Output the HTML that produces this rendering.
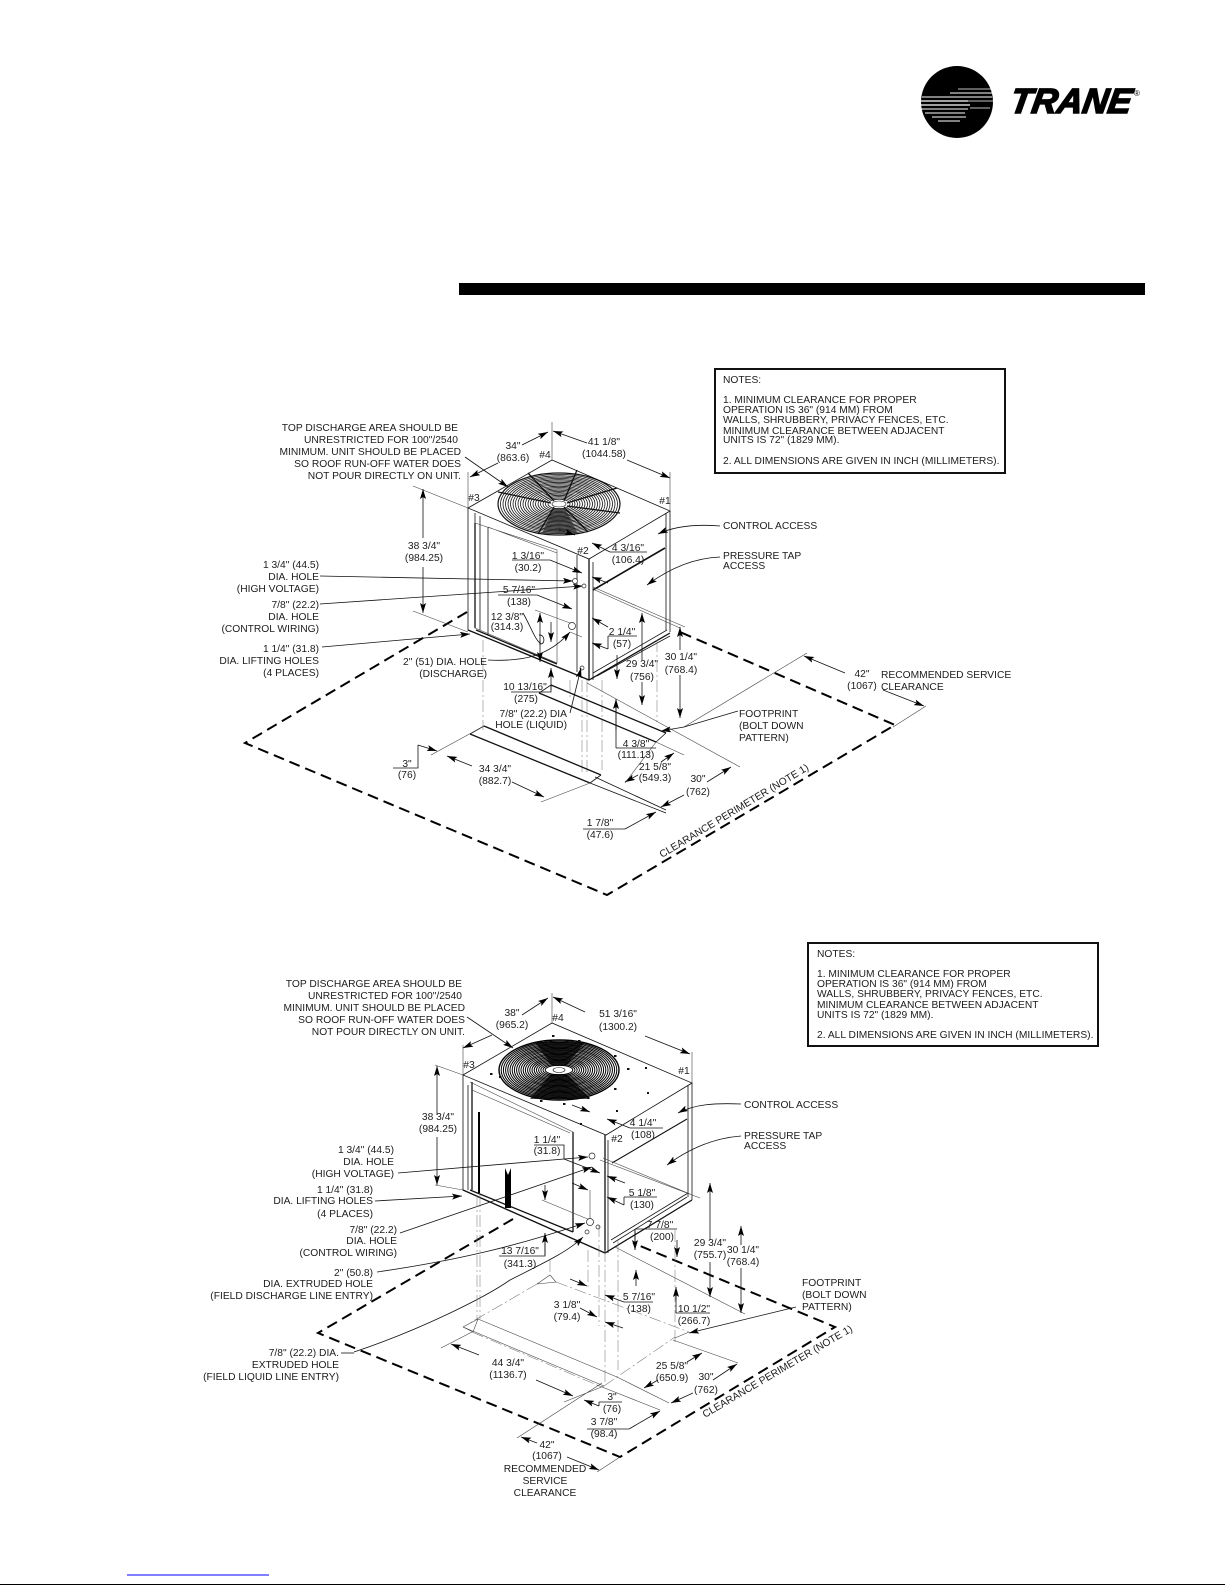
<!DOCTYPE html>
<html><head><meta charset="utf-8"><style>
html,body{margin:0;padding:0;background:#fff}
svg{display:block;filter:blur(.3px)}
text{font-family:"Liberation Sans",sans-serif;font-size:10.25px;fill:#1c1c1c;stroke:none}
.e text,text.e{text-anchor:end}
.m text{text-anchor:middle}
.l{fill:none;stroke:#111;stroke-width:.8}
.t{fill:none;stroke:#444;stroke-width:.6}
.h{fill:none;stroke:#111;stroke-width:1.3}
.a{fill:none;stroke:#111;stroke-width:.8;marker-end:url(#ar)}
.p{fill:none;stroke:#000;stroke-width:2;stroke-dasharray:11 6}
.d{fill:none;stroke:#777;stroke-width:.55;stroke-dasharray:12 3 2 3}
</style></head><body>
<svg width="1225" height="1585" viewBox="0 0 1225 1585" xmlns="http://www.w3.org/2000/svg">
<defs>
<marker id="ar" markerUnits="userSpaceOnUse" markerWidth="11" markerHeight="7" refX="10" refY="3" orient="auto"><path d="M0 0L10 3L0 6L2 3z" fill="#000"/></marker>
<g id="fan1" fill="none" stroke="#111" stroke-width=".8">
<ellipse rx="61" ry="31" stroke-width="1.2"/><ellipse rx="58.5" ry="29.6"/><ellipse rx="56" ry="28.2"/><ellipse rx="53.5" ry="26.9"/><ellipse rx="51" ry="25.6"/><ellipse rx="48.5" ry="24.3"/><ellipse rx="46" ry="23"/><ellipse rx="43.5" ry="21.7"/><ellipse rx="41" ry="20.4"/><ellipse rx="38.5" ry="19.1"/><ellipse rx="36" ry="17.8"/><ellipse rx="33.5" ry="16.5"/><ellipse rx="31" ry="15.2"/><ellipse rx="28.5" ry="13.9"/><ellipse rx="26" ry="12.6"/><ellipse rx="23.5" ry="11.3"/><ellipse rx="21" ry="10"/><ellipse rx="18.5" ry="8.7"/><ellipse rx="16" ry="7.4"/><ellipse rx="13.5" ry="6.1"/><ellipse rx="11" ry="4.8"/>
</g>
<g id="fan2" fill="none" stroke="#000" stroke-width="1">
<ellipse rx="60" ry="30" stroke-width="1.4"/><ellipse rx="57.8" ry="28.8"/><ellipse rx="55.6" ry="27.6"/><ellipse rx="53.4" ry="26.4"/><ellipse rx="51.2" ry="25.2"/><ellipse rx="49" ry="24"/><ellipse rx="46.8" ry="22.8"/><ellipse rx="44.6" ry="21.6"/><ellipse rx="42.4" ry="20.4"/><ellipse rx="40.2" ry="19.2"/><ellipse rx="38" ry="18"/><ellipse rx="35.8" ry="16.8"/><ellipse rx="33.6" ry="15.6"/><ellipse rx="31.4" ry="14.4"/><ellipse rx="29.2" ry="13.2"/><ellipse rx="27" ry="12"/><ellipse rx="24.8" ry="10.8"/><ellipse rx="22.6" ry="9.6"/><ellipse rx="20.4" ry="8.4"/><ellipse rx="18.2" ry="7.2"/><ellipse rx="16" ry="6"/><ellipse rx="13.8" ry="4.8"/>
</g>
</defs>

<!-- logo -->
<circle cx="957" cy="102" r="36" fill="#000"/>
<g stroke="#fff" fill="none">
<path d="M958 89H992" stroke-width=".8"/><path d="M950 93H993" stroke-width="1.1"/><path d="M945 97H992" stroke-width="1.1"/><path d="M922 97H955" stroke-width="1"/>
<path d="M921 101H968" stroke-width="1.2"/><path d="M968 101H993" stroke-width=".8"/><path d="M921 105H970" stroke-width="1.2"/><path d="M921 109H968" stroke-width="1.1"/><path d="M970 108H990" stroke-width=".8"/><path d="M925 113H965" stroke-width="1"/><path d="M932 117H966" stroke-width="1"/><path d="M938 121H960" stroke-width="1"/>
</g>
<text transform="translate(1009 113) skewX(-9)" style="font-size:35px;font-weight:bold;font-style:italic;fill:#000;stroke:#000;stroke-width:1.6" textLength="121" lengthAdjust="spacingAndGlyphs">TRANE</text>
<text x="1134" y="96" style="font-size:8px;fill:#000">®</text>

<rect x="459" y="283" width="686" height="12" fill="#000"/>

<!-- notes 1 -->
<rect x="715" y="369" width="290" height="104" fill="#fff" stroke="#111" stroke-width="2"/>
<g>
<text x="723" y="383">NOTES:</text>
<text x="723" y="403">1. MINIMUM CLEARANCE FOR PROPER</text>
<text x="723" y="413">OPERATION IS 36" (914 MM) FROM</text>
<text x="723" y="423">WALLS, SHRUBBERY, PRIVACY FENCES, ETC.</text>
<text x="723" y="434">MINIMUM CLEARANCE BETWEEN ADJACENT</text>
<text x="723" y="443">UNITS IS 72" (1829 MM).</text>
<text x="723" y="464">2. ALL DIMENSIONS ARE GIVEN IN INCH (MILLIMETERS).</text>
<text x="723" y="529">CONTROL ACCESS</text>
<text x="723" y="559">PRESSURE TAP</text>
<text x="723" y="569">ACCESS</text>
</g>

<!-- UNIT 1 geometry -->
<path class="p" d="M467 612L245 743L607 895L895 725L680 632"/>
<path class="l" d="M552 460L468 508L589 559L670 511Z"/>
<path class="t" d="M552 422V460M468 472V508M670 472V511M413 486L468 508M413 611L468 632"/>
<path class="l" d="M468 508V630L589 680V559M475 513V628M480 516V630M488 527V635M593 562V680M666 513V630M670 511V632M577 555V672"/>
<path class="h" d="M475 523V628M589 559V680"/>
<path class="t" d="M475 523L557 550V663M475 628L557 663M488 527L557 553"/>
<path class="h" d="M468 630L589 680L670 633M476 630L557 664"/>
<path class="l" d="M593 673L667 630M597 676L670 636"/>
<path class="h" d="M593 590L665 548" style="stroke-width:1.6"/>
<path class="t" d="M593 587L685 627M595 590L680 628"/>
<use href="#fan1" x="559" y="504"/>
<path class="h" d="M528 473L554 501M577 470L564 501M617 488L567 503M620 513L567 506M588 532L564 507M538 534L554 507M498 492L551 503" style="stroke-width:1.3"/>
<path d="M553 508L542 534L578 534L565 508Z" fill="#222" opacity=".6"/>
<ellipse cx="559" cy="504" rx="7" ry="3" fill="#fff" stroke="#111" stroke-width=".6"/>

<path class="a" d="M522 445L548 432"/><path class="a" d="M498 463L470 477"/>
<path class="a" d="M587 443L553 431"/><path class="a" d="M627 460L670 478"/>
<path class="a" d="M465 457L508 487"/>
<path class="a" d="M423 538V489"/><path class="a" d="M423 567V613"/>
<path class="a" d="M320 576L573 581"/><path class="a" d="M320 604L583 586"/><path class="a" d="M322 647L470 634"/>
<path class="a" d="M488 660C525 662 550 655 570 632"/>
<path class="l" d="M512 560H550"/><path class="a" d="M550 560L582 573"/>
<path class="l" d="M498 595H537"/><path class="a" d="M537 595L572 609"/>
<path class="l" d="M523 613C530 625 535 640 541 644C546 643 544 634 539 635"/>
<path class="t" d="M535 610L570 623M570 632L582 637"/>
<path class="a" d="M540 645V613"/><path class="a" d="M540 640V662"/><path class="a" d="M551 622V642"/>
<circle cx="572" cy="626" r="3.5" fill="#fff" stroke="#222" stroke-width=".7"/>
<circle cx="575" cy="581" r="2.5" fill="#fff" stroke="#222" stroke-width=".7"/>
<circle cx="584" cy="586" r="2" fill="#fff" stroke="#222" stroke-width=".7"/>
<circle cx="582" cy="668" r="2" fill="#fff" stroke="#222" stroke-width=".7"/>
<path class="a" d="M559 530L575 535"/>
<path class="a" d="M608 627L592 618"/><path class="l" d="M608 636H637M608 636V649"/><path class="a" d="M608 649L592 643"/>
<path class="l" d="M610 552H647"/><path class="a" d="M610 552L592 543"/><path class="a" d="M608 583L592 577"/>
<path class="a" d="M642 660V613"/><path class="a" d="M642 682V705"/>
<path class="a" d="M680 650V627"/><path class="a" d="M680 675V718"/>
<path class="a" d="M617 655V679"/><path class="l" d="M616 748V699"/><path class="a" d="M616 730V699"/>
<path class="a" d="M720 526C695 524 675 526 658 534"/>
<path class="a" d="M720 557C695 558 670 568 647 585"/>
<path class="a" d="M570 713L581 668"/>
<path class="l" d="M511 692H551V685"/><path class="a" d="M551 690V668"/>
<path class="d" d="M483 640V730M582 680V775M587 680V775M602 680V770M657 640V722M570 680V700"/>

<path class="h" d="M551 685L666 733M539 693L656 742M484 726L601 775M470 734L590 783"/>
<path class="l" d="M666 733L656 742M539 693L551 685M601 775L590 783M470 734L484 726"/>
<path class="t" d="M587 683L740 767M656 742L684 755M431 755L484 726M541 802L590 783M625 783L656 742M684 727L807 653M893 727L926 706"/>
<path class="l" d="M590 783L666 813M595 777L666 810"/>
<path class="a" d="M845 673L804 656"/><path class="a" d="M883 690L924 706"/>
<path class="l" d="M738 711L684 727"/><path class="a" d="M684 727L661 731"/>
<path class="l" d="M616 748H656"/>
<path class="a" d="M661 762L674 753"/><path class="a" d="M638 775L625 782"/>
<path class="a" d="M707 782L731 767"/><path class="a" d="M684 795L661 807"/>
<path class="l" d="M583 829H625"/><path class="a" d="M625 829L656 812"/>
<path class="l" d="M393 768H418V745"/><path class="a" d="M418 745L437 751"/>
<path class="a" d="M512 782L544 797"/><path class="a" d="M472 766L447 756"/>

<!-- unit 1 labels -->
<g class="e">
<text x="458" y="431">TOP DISCHARGE AREA SHOULD BE</text>
<text x="458" y="443">UNRESTRICTED FOR 100"/2540</text>
<text x="461" y="455">MINIMUM. UNIT SHOULD BE PLACED</text>
<text x="461" y="467">SO ROOF RUN-OFF WATER DOES</text>
<text x="461" y="479">NOT POUR DIRECTLY ON UNIT.</text>
<text x="319" y="568">1 3/4" (44.5)</text><text x="319" y="580">DIA. HOLE</text><text x="319" y="592">(HIGH VOLTAGE)</text>
<text x="319" y="608">7/8" (22.2)</text><text x="319" y="620">DIA. HOLE</text><text x="319" y="632">(CONTROL WIRING)</text>
<text x="319" y="652">1 1/4" (31.8)</text><text x="319" y="664">DIA. LIFTING HOLES</text><text x="319" y="676">(4 PLACES)</text>
<text x="487" y="665">2" (51) DIA. HOLE</text><text x="487" y="677">(DISCHARGE)</text>
<text x="567" y="717">7/8" (22.2) DIA</text><text x="567" y="728">HOLE (LIQUID)</text>
</g>
<g class="m">
<text x="513" y="449">34"</text><text x="513" y="461">(863.6)</text>
<text x="545" y="458">#4</text>
<text x="604" y="445">41 1/8"</text><text x="604" y="457">(1044.58)</text>
<text x="474" y="501">#3</text><text x="665" y="504">#1</text><text x="583" y="554">#2</text>
<text x="424" y="549">38 3/4"</text><text x="424" y="561">(984.25)</text>
<text x="528" y="559">1 3/16"</text><text x="528" y="571">(30.2)</text>
<text x="628" y="551">4 3/16"</text><text x="628" y="563">(106.4)</text>
<text x="519" y="593">5 7/16"</text><text x="519" y="605">(138)</text>
<text x="507" y="620">12 3/8"</text><text x="507" y="630">(314.3)</text>
<text x="622" y="635">2 1/4"</text><text x="622" y="647">(57)</text>
<text x="642" y="667">29 3/4"</text><text x="642" y="680">(756)</text>
<text x="681" y="660">30 1/4"</text><text x="681" y="673">(768.4)</text>
<text x="525" y="690">10 13/16"</text><text x="526" y="702">(275)</text>
<text x="636" y="747">4 3/8"</text><text x="636" y="758">(111.13)</text>
<text x="655" y="770">21 5/8"</text><text x="655" y="781">(549.3)</text>
<text x="698" y="782">30"</text><text x="698" y="795">(762)</text>
<text x="407" y="767">3"</text><text x="407" y="778">(76)</text>
<text x="495" y="772">34 3/4"</text><text x="495" y="784">(882.7)</text>
<text x="600" y="826">1 7/8"</text><text x="600" y="838">(47.6)</text>
<text x="862" y="677">42"</text><text x="862" y="689">(1067)</text>
</g>
<text x="881" y="678">RECOMMENDED SERVICE</text><text x="881" y="690">CLEARANCE</text>
<text x="739" y="717">FOOTPRINT</text><text x="739" y="729">(BOLT DOWN</text><text x="739" y="741">PATTERN)</text>
<text transform="translate(662 858) rotate(-31)">CLEARANCE PERIMETER (NOTE 1)</text>

<!-- notes 2 -->
<rect x="808" y="943" width="290" height="103" fill="#fff" stroke="#111" stroke-width="2"/>
<text x="817" y="957">NOTES:</text>
<text x="817" y="977">1. MINIMUM CLEARANCE FOR PROPER</text>
<text x="817" y="987">OPERATION IS 36" (914 MM) FROM</text>
<text x="817" y="997">WALLS, SHRUBBERY, PRIVACY FENCES, ETC.</text>
<text x="817" y="1008">MINIMUM CLEARANCE BETWEEN ADJACENT</text>
<text x="817" y="1018">UNITS IS 72" (1829 MM).</text>
<text x="817" y="1038">2. ALL DIMENSIONS ARE GIVEN IN INCH (MILLIMETERS).</text>
<text x="744" y="1108">CONTROL ACCESS</text>
<text x="744" y="1139">PRESSURE TAP</text>
<text x="744" y="1149">ACCESS</text>

<!-- UNIT 2 geometry -->
<path class="p" d="M513 1219L318 1333L620 1457L835 1327L633 1243"/>
<path class="l" d="M552 1023L463 1075L606 1135L692 1083Z"/>
<path class="t" d="M552 993V1023M463 1045V1075M692 1052V1083M435 1065L463 1075M435 1185L463 1190"/>
<path class="l" d="M463 1075V1190L605 1253V1135M468 1085V1190M688 1085V1197M692 1083V1200M608 1140V1253"/>
<path class="h" d="M472 1082V1190M573 1132V1232M605 1135V1253"/>
<path class="t" d="M470 1082L573 1132M472 1090L570 1133"/>
<path class="h" d="M463 1190L605 1253L692 1200M470 1190L573 1232"/>
<path class="l" d="M613 1243L687 1197M611 1240L688 1193"/>
<path d="M478 1112H480V1193H478ZM505 1168L508 1175L511 1168V1208H505Z" fill="#000"/>
<path class="l" d="M612 1163L687 1119" style="stroke-width:1.1"/>
<path class="t" d="M600 1160L700 1198M603 1158L690 1194M615 1247L745 1314"/>
<use href="#fan2" x="559" y="1070"/>
<path d="M551 1074L530 1099L590 1099L567 1074ZM552 1066L535 1042L585 1042L566 1066Z" fill="#000" opacity=".7"/>
<ellipse cx="559" cy="1070" rx="6" ry="2.5" fill="#fff" stroke="#111" stroke-width=".6"/>
<g fill="#111">
<rect x="552" y="1035" width="2.5" height="2"/><rect x="578" y="1040" width="2.5" height="2"/><rect x="614" y="1055" width="2.5" height="2"/><rect x="627" y="1068" width="2.5" height="2"/><rect x="645" y="1067" width="2" height="2"/><rect x="614" y="1088" width="2.5" height="2"/><rect x="587" y="1097" width="2.5" height="2"/><rect x="563" y="1103" width="2.5" height="2"/><rect x="540" y="1100" width="2.5" height="2"/><rect x="499" y="1076" width="2.5" height="2"/><rect x="490" y="1073" width="2.5" height="2"/><rect x="647" y="1092" width="2" height="2"/><rect x="616" y="1110" width="2" height="2"/><rect x="580" y="1123" width="2" height="2"/>
</g>

<path class="a" d="M522 1015L548 998"/><path class="a" d="M492 1035L463 1048"/>
<path class="a" d="M585 1012L553 997"/><path class="a" d="M645 1036L690 1054"/>
<path class="a" d="M467 1017L513 1048"/>
<path class="a" d="M437 1115V1066"/><path class="a" d="M437 1137V1185"/>
<path class="a" d="M398 1173L588 1157"/><path class="a" d="M375 1201L462 1196"/><path class="a" d="M400 1233L592 1167"/>
<path class="a" d="M377 1272C460 1260 520 1245 585 1223"/>
<path class="l" d="M341 1353H354"/><path class="a" d="M354 1352C420 1330 486 1297 510 1280C550 1260 570 1250 583 1237"/>
<path class="l" d="M534 1145H564V1159"/><path class="a" d="M564 1159L600 1173"/><path class="a" d="M572 1105L590 1112"/>
<path class="l" d="M630 1128H663"/><path class="a" d="M630 1128L607 1119"/>
<path class="l" d="M624 1197H657M624 1197V1205"/><path class="a" d="M624 1205L607 1197"/><path class="a" d="M625 1183L607 1176"/>
<path class="a" d="M741 1104C715 1103 695 1104 678 1113"/>
<path class="a" d="M741 1136C715 1138 690 1148 667 1165"/>
<path class="l" d="M499 1256H545V1233"/><path class="a" d="M545 1255V1233"/>
<path class="l" d="M635 1229H677M635 1229V1250"/><path class="a" d="M635 1230V1250"/><path class="a" d="M677 1240V1257"/>
<path class="t" d="M542 1200L590 1220M590 1190V1220"/>
<path class="a" d="M545 1185V1200"/><path class="a" d="M572 1183L588 1190"/>
<circle cx="592" cy="1156" r="3" fill="#fff" stroke="#222" stroke-width=".7"/>
<circle cx="590" cy="1222" r="3.5" fill="#fff" stroke="#222" stroke-width=".7"/>
<circle cx="587" cy="1232" r="2" fill="#fff" stroke="#222" stroke-width=".7"/>
<circle cx="598" cy="1227" r="2" fill="#fff" stroke="#222" stroke-width=".7"/>

<path class="d" d="M477 1195V1319M480 1195V1319M550 1260V1275M588 1250V1290M599 1225V1326M605 1250V1385M618 1240V1370M675 1230V1345"/>
<path class="t" d="M550 1275L537 1284L556 1282L550 1275M463 1327L478 1319L473 1332L463 1327M675 1338L689 1332"/>
<path class="d" d="M537 1284L463 1327M604 1386L675 1337M556 1282L689 1332"/>
<path class="t" d="M478 1319L617 1377M463 1327L604 1386M673 1340L738 1363M617 1377L669 1403M597 1385L660 1410M472 1332L441 1348M604 1386L564 1402M517 1438L602 1383M597 1472L620 1457"/>
<path class="d" d="M472 1332L597 1385"/>
<path class="a" d="M479 1355L451 1344"/><path class="a" d="M536 1380L573 1396"/>
<path class="a" d="M687 1362L702 1353"/><path class="a" d="M658 1380L644 1388"/>
<path class="a" d="M713 1380L737 1364"/><path class="a" d="M693 1393L671 1403"/>
<path class="l" d="M599 1402H622M599 1402V1406"/><path class="a" d="M599 1406L584 1400"/>
<path class="l" d="M587 1429H629"/><path class="a" d="M629 1429L660 1411"/>
<path class="a" d="M537 1443L521 1437"/><path class="a" d="M567 1457L599 1470"/>
<path class="a" d="M580 1308L597 1317"/><path class="a" d="M623 1328L605 1322"/>
<path class="l" d="M624 1302H653"/><path class="a" d="M624 1302L605 1295"/><path class="a" d="M570 1279L587 1286"/>
<path class="l" d="M676 1313H710M676 1313V1287"/><path class="a" d="M676 1300V1287"/>
<path class="a" d="M710 1240V1183"/><path class="a" d="M710 1262V1297"/>
<path class="a" d="M741 1245V1226"/><path class="a" d="M741 1268V1313"/>
<path class="a" d="M636 1286V1270"/>
<path class="a" d="M796 1307L689 1333"/>

<!-- unit 2 labels -->
<g class="e">
<text x="462" y="987">TOP DISCHARGE AREA SHOULD BE</text>
<text x="462" y="999">UNRESTRICTED FOR 100"/2540</text>
<text x="465" y="1011">MINIMUM. UNIT SHOULD BE PLACED</text>
<text x="465" y="1023">SO ROOF RUN-OFF WATER DOES</text>
<text x="465" y="1035">NOT POUR DIRECTLY ON UNIT.</text>
<text x="394" y="1153">1 3/4" (44.5)</text><text x="394" y="1165">DIA. HOLE</text><text x="394" y="1177">(HIGH VOLTAGE)</text>
<text x="373" y="1193">1 1/4" (31.8)</text><text x="373" y="1204">DIA. LIFTING HOLES</text><text x="373" y="1217">(4 PLACES)</text>
<text x="397" y="1233">7/8" (22.2)</text><text x="397" y="1244">DIA. HOLE</text><text x="397" y="1256">(CONTROL WIRING)</text>
<text x="373" y="1276">2" (50.8)</text><text x="373" y="1287">DIA. EXTRUDED HOLE</text><text x="373" y="1299">(FIELD DISCHARGE LINE ENTRY)</text>
<text x="339" y="1356">7/8" (22.2) DIA.</text><text x="339" y="1368">EXTRUDED HOLE</text><text x="339" y="1380">(FIELD LIQUID LINE ENTRY)</text>
</g>
<g class="m">
<text x="512" y="1016">38"</text><text x="512" y="1028">(965.2)</text>
<text x="558" y="1021">#4</text>
<text x="618" y="1017">51 3/16"</text><text x="618" y="1030">(1300.2)</text>
<text x="469" y="1068">#3</text><text x="684" y="1074">#1</text><text x="617" y="1142">#2</text>
<text x="438" y="1120">38 3/4"</text><text x="438" y="1132">(984.25)</text>
<text x="547" y="1143">1 1/4"</text><text x="547" y="1154">(31.8)</text>
<text x="643" y="1126">4 1/4"</text><text x="643" y="1138">(108)</text>
<text x="642" y="1196">5 1/8"</text><text x="642" y="1208">(130)</text>
<text x="660" y="1228">7 7/8"</text><text x="662" y="1240">(200)</text>
<text x="520" y="1254">13 7/16"</text><text x="520" y="1267">(341.3)</text>
<text x="710" y="1246">29 3/4"</text><text x="710" y="1258">(755.7)</text>
<text x="743" y="1253">30 1/4"</text><text x="743" y="1265">(768.4)</text>
<text x="639" y="1300">5 7/16"</text><text x="639" y="1312">(138)</text>
<text x="567" y="1308">3 1/8"</text><text x="567" y="1320">(79.4)</text>
<text x="694" y="1312">10 1/2"</text><text x="694" y="1324">(266.7)</text>
<text x="672" y="1369">25 5/8"</text><text x="672" y="1381">(650.9)</text>
<text x="706" y="1380">30"</text><text x="706" y="1393">(762)</text>
<text x="508" y="1366">44 3/4"</text><text x="508" y="1378">(1136.7)</text>
<text x="612" y="1400">3"</text><text x="612" y="1412">(76)</text>
<text x="604" y="1425">3 7/8"</text><text x="604" y="1437">(98.4)</text>
<text x="547" y="1448">42"</text><text x="547" y="1459">(1067)</text>
<text x="545" y="1472">RECOMMENDED</text><text x="545" y="1484">SERVICE</text><text x="545" y="1496">CLEARANCE</text>
</g>
<text x="802" y="1286">FOOTPRINT</text><text x="802" y="1298">(BOLT DOWN</text><text x="802" y="1310">PATTERN)</text>
<text transform="translate(705 1418) rotate(-30.5)">CLEARANCE PERIMETER (NOTE 1)</text>

<rect x="127" y="1574.5" width="142" height="1" fill="#0000ff"/>
<rect x="0" y="1584" width="1225" height="1" fill="#000"/>
</svg>
</body></html>
